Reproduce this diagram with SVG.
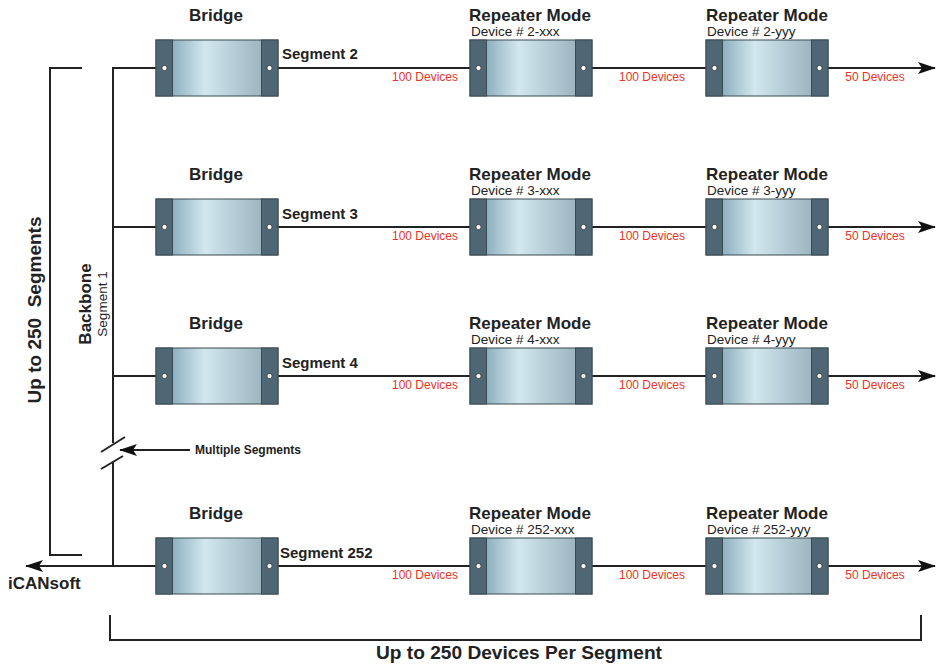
<svg xmlns="http://www.w3.org/2000/svg" width="939" height="666" viewBox="0 0 939 666">
  <defs>
    <linearGradient id="body" x1="0" y1="0" x2="1" y2="0">
      <stop offset="0" stop-color="#6b93a7"/>
      <stop offset="0.4" stop-color="#d2e7ee"/>
      <stop offset="0.65" stop-color="#b4ccd6"/>
      <stop offset="1" stop-color="#8ea8b3"/>
    </linearGradient>
    <marker id="arrow" viewBox="0 0 18 12" refX="17" refY="6" markerWidth="18" markerHeight="12" markerUnits="userSpaceOnUse" orient="auto">
      <path d="M0,0 L18,6 L0,12 L4,6 z" fill="#111"/>
    </marker>
    <!-- one inline device: grey end caps with a terminal dot on each side -->
    <g id="unit">
      <rect x="0" y="0" width="122" height="56" fill="url(#body)" stroke="#3a4a52" stroke-width="1"/>
      <rect x="0" y="0" width="16.5" height="56" fill="#4f6774" stroke="#3a4a52" stroke-width="1"/>
      <rect x="105.5" y="0" width="16.5" height="56" fill="#4f6774" stroke="#3a4a52" stroke-width="1"/>
      <circle cx="8.5" cy="28" r="2.6" fill="#fff" stroke="#333" stroke-width="0.8"/>
      <circle cx="113.5" cy="28" r="2.6" fill="#fff" stroke="#333" stroke-width="0.8"/>
    </g>
  </defs>
  <style>
    .ln { stroke: #222; stroke-width: 2; fill: none; }
    .h { font-family: "Liberation Sans", Arial, sans-serif; font-weight: bold; fill: #222; }
    .t { font-family: "Liberation Sans", Arial, sans-serif; fill: #222; }
    .red { font-family: "Liberation Sans", Arial, sans-serif; fill: #ee3124; font-size: 12px; }
    .title { font-size: 17px; }
    .dev { font-size: 13.5px; }
    .seg { font-size: 15px; }
  </style>
  <rect width="939" height="666" fill="#fff"/>

  <!-- connectors -->
  <g id="connectors">
    <!-- backbone, broken by the multiple-segments marks -->
    <polyline class="ln" points="156,68 113,68 113,443"/>
    <polyline class="ln" points="113,462 113,566"/>
    <line class="ln" x1="101" y1="452" x2="125" y2="437"/>
    <line class="ln" x1="101" y1="469" x2="123" y2="456"/>
    <line class="ln" x1="113" y1="227" x2="156" y2="227"/>
    <line class="ln" x1="113" y1="376" x2="156" y2="376"/>
    <line class="ln" x1="156" y1="566" x2="26" y2="566" marker-end="url(#arrow)"/>
    <line class="ln" x1="190" y1="450" x2="120" y2="450" stroke-width="1.5" marker-end="url(#arrow)"/>
    <!-- left bracket -->
    <polyline class="ln" points="82,68 50,68 50,555 82,555"/>
    <!-- bottom bracket -->
    <polyline class="ln" points="110,615 110,640 921,640 921,615" stroke-width="1.8"/>
    <!-- segment lines -->
    <g id="seg-lines">
      <line class="ln" x1="278" y1="68" x2="470" y2="68"/>
      <line class="ln" x1="592" y1="68" x2="706" y2="68"/>
      <line class="ln" x1="828" y1="68" x2="935" y2="68" marker-end="url(#arrow)"/>
      <line class="ln" x1="278" y1="227" x2="470" y2="227"/>
      <line class="ln" x1="592" y1="227" x2="706" y2="227"/>
      <line class="ln" x1="828" y1="227" x2="935" y2="227" marker-end="url(#arrow)"/>
      <line class="ln" x1="278" y1="376" x2="470" y2="376"/>
      <line class="ln" x1="592" y1="376" x2="706" y2="376"/>
      <line class="ln" x1="828" y1="376" x2="935" y2="376" marker-end="url(#arrow)"/>
      <line class="ln" x1="278" y1="566" x2="470" y2="566"/>
      <line class="ln" x1="592" y1="566" x2="706" y2="566"/>
      <line class="ln" x1="828" y1="566" x2="935" y2="566" marker-end="url(#arrow)"/>
    </g>
  </g>

  <!-- side and bottom labels -->
  <text class="h" font-size="19" xml:space="preserve" transform="translate(41,310) rotate(-90)" text-anchor="middle">Up to 250  Segments</text>
  <text class="h" font-size="17" transform="translate(91,304) rotate(-90)" text-anchor="middle">Backbone</text>
  <text class="t" font-size="13.5" transform="translate(107,304) rotate(-90)" text-anchor="middle">Segment 1</text>
  <text class="h" font-size="12" x="195" y="454">Multiple Segments</text>
  <text class="h" font-size="17" x="8" y="589">iCANsoft</text>
  <text class="h" font-size="18" x="519" y="659" text-anchor="middle" textLength="286" lengthAdjust="spacingAndGlyphs">Up to 250 Devices Per Segment</text>

  <!-- row: segment 2 -->
  <g id="bridge-2">
    <text class="h title" x="216" y="21" text-anchor="middle">Bridge</text>
    <use href="#unit" x="156" y="40"/>
    <text class="h seg" x="282" y="59">Segment 2</text>
  </g>
  <g id="rep-2-xxx">
    <text class="h title" x="530" y="21" text-anchor="middle">Repeater Mode</text>
    <text class="t dev" x="471" y="36">Device # 2-xxx</text>
    <use href="#unit" x="470" y="40"/>
  </g>
  <g id="rep-2-yyy">
    <text class="h title" x="767" y="21" text-anchor="middle">Repeater Mode</text>
    <text class="t dev" x="707" y="36">Device # 2-yyy</text>
    <use href="#unit" x="706" y="40"/>
  </g>
  <text class="red" x="458" y="81" text-anchor="end">100 Devices</text>
  <text class="red" x="652" y="81" text-anchor="middle">100 Devices</text>
  <text class="red" x="875" y="81" text-anchor="middle">50 Devices</text>

  <!-- row: segment 3 -->
  <g id="bridge-3">
    <text class="h title" x="216" y="180" text-anchor="middle">Bridge</text>
    <use href="#unit" x="156" y="199"/>
    <text class="h seg" x="282" y="219">Segment 3</text>
  </g>
  <g id="rep-3-xxx">
    <text class="h title" x="530" y="180" text-anchor="middle">Repeater Mode</text>
    <text class="t dev" x="471" y="195">Device # 3-xxx</text>
    <use href="#unit" x="470" y="199"/>
  </g>
  <g id="rep-3-yyy">
    <text class="h title" x="767" y="180" text-anchor="middle">Repeater Mode</text>
    <text class="t dev" x="707" y="195">Device # 3-yyy</text>
    <use href="#unit" x="706" y="199"/>
  </g>
  <text class="red" x="458" y="240" text-anchor="end">100 Devices</text>
  <text class="red" x="652" y="240" text-anchor="middle">100 Devices</text>
  <text class="red" x="875" y="240" text-anchor="middle">50 Devices</text>

  <!-- row: segment 4 -->
  <g id="bridge-4">
    <text class="h title" x="216" y="329" text-anchor="middle">Bridge</text>
    <use href="#unit" x="156" y="348"/>
    <text class="h seg" x="282" y="368">Segment 4</text>
  </g>
  <g id="rep-4-xxx">
    <text class="h title" x="530" y="329" text-anchor="middle">Repeater Mode</text>
    <text class="t dev" x="471" y="344">Device # 4-xxx</text>
    <use href="#unit" x="470" y="348"/>
  </g>
  <g id="rep-4-yyy">
    <text class="h title" x="767" y="329" text-anchor="middle">Repeater Mode</text>
    <text class="t dev" x="707" y="344">Device # 4-yyy</text>
    <use href="#unit" x="706" y="348"/>
  </g>
  <text class="red" x="458" y="389" text-anchor="end">100 Devices</text>
  <text class="red" x="652" y="389" text-anchor="middle">100 Devices</text>
  <text class="red" x="875" y="389" text-anchor="middle">50 Devices</text>

  <!-- row: segment 252 -->
  <g id="bridge-252">
    <text class="h title" x="216" y="519" text-anchor="middle">Bridge</text>
    <use href="#unit" x="156" y="538"/>
    <text class="h seg" x="280" y="558">Segment 252</text>
  </g>
  <g id="rep-252-xxx">
    <text class="h title" x="530" y="519" text-anchor="middle">Repeater Mode</text>
    <text class="t dev" x="471" y="534">Device # 252-xxx</text>
    <use href="#unit" x="470" y="538"/>
  </g>
  <g id="rep-252-yyy">
    <text class="h title" x="767" y="519" text-anchor="middle">Repeater Mode</text>
    <text class="t dev" x="707" y="534">Device # 252-yyy</text>
    <use href="#unit" x="706" y="538"/>
  </g>
  <text class="red" x="458" y="579" text-anchor="end">100 Devices</text>
  <text class="red" x="652" y="579" text-anchor="middle">100 Devices</text>
  <text class="red" x="875" y="579" text-anchor="middle">50 Devices</text>
</svg>
